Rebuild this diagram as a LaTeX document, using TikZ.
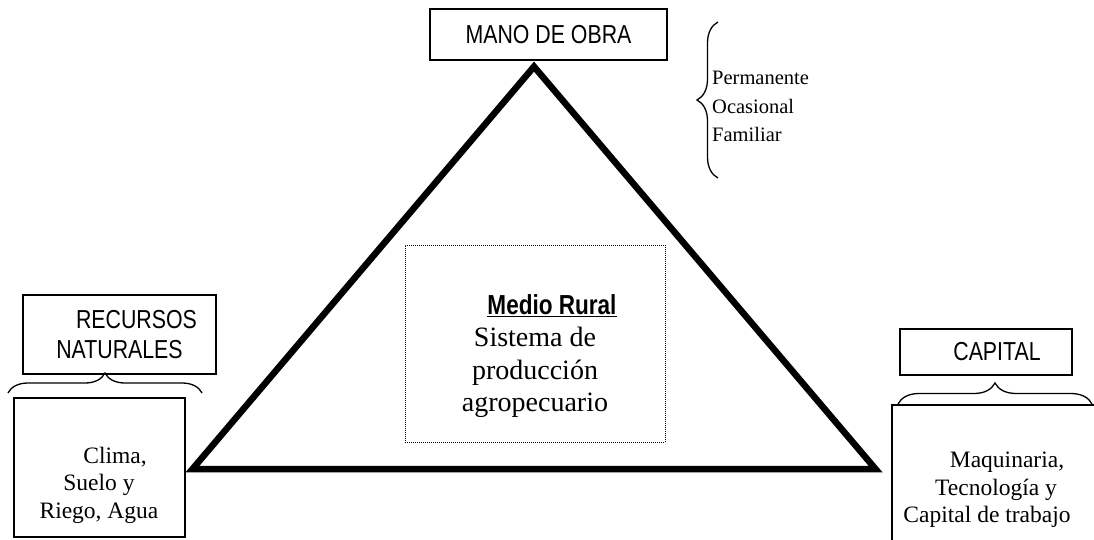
\documentclass[tikz,border=0pt]{standalone}
\usepackage{fontspec}
\setmainfont{Liberation Serif}
\newfontfamily\narrowfont[FakeStretch=0.82]{Liberation Sans}
\usetikzlibrary{decorations.pathreplacing}

\begin{document}
\begin{tikzpicture}[
  x=1pt, y=-1pt,
  titlebox/.style={
    rectangle, draw=black, line width=1.8pt, inner sep=0pt, align=center,
    font=\narrowfont\fontsize{26}{30}\selectfont
  },
  framebox/.style={
    rectangle, draw=black, line width=1.8pt, inner sep=0pt
  },
  itemtext/.style={
    inner sep=0pt, align=center, font=\fontsize{23.5}{27.5}\selectfont
  },
  tri/.style={line width=6.5pt, line join=miter},
  brc/.style={decorate, decoration={brace, amplitude=#1}, line width=1.3pt},
  brc/.default=20pt
]
  \useasboundingbox (0,0) rectangle (1094,540);
  \clip (0,0) rectangle (1094,540);

  % Triangle corners
  \coordinate (apex)  at (534,66.6);
  \coordinate (left)  at (192.5,469);
  \coordinate (right) at (875.5,469);
  \draw[tri] (left) -- (apex) -- (right) -- cycle;

  % Labels at the corners
  \node[titlebox, minimum width=237, minimum height=51] (mano) at (548.5,34.5) {MANO DE OBRA};
  \node[titlebox, minimum width=193, minimum height=79] (recursos) at (119.5,334.5)
    {\hspace*{34pt}RECURSOS\\NATURALES};
  \node[titlebox, minimum width=172, minimum height=46] (capital) at (986,352)
    {\hspace*{22pt}CAPITAL};

  % Centre box
  \node[framebox, draw, line width=1pt, dash pattern=on 1pt off 1pt,
        minimum width=260, minimum height=197] (medio) at (535,343.5) {};
  \node[inner sep=0pt, align=center, font=\fontsize{28}{32.3}\selectfont] (mediotxt) at (535,356)
    {{\narrowfont\bfseries\fontsize{27.5}{32.3}\selectfont\hspace*{34pt}\underline{Medio Rural}}\\
     Sistema de\\producción\\agropecuario};

  % Boxes under the braces
  \node[framebox, minimum width=171, minimum height=139] (clima) at (99.5,467.5) {};
  \node[itemtext] (climatxt) at (99,485) {\hspace*{32pt}Clima,\\Suelo y\\Riego, Agua};
  \node[framebox, minimum width=218, minimum height=155] (maquina) at (1001,482.5) {};
  \node[itemtext] (maquinatxt) at (987,490)
    {\hspace*{40pt}Maquinaria,\\\hspace*{18pt}Tecnología y\\Capital de trabajo};

  % Kinds of labour
  \node[inner sep=0pt, align=left, anchor=west, font=\fontsize{20.5}{28.5}\selectfont]
    (tipos) at (712,106.7) {Permanente\\Ocasional\\Familiar};

  % Braces
  \coordinate (bl1) at (8,393);
  \coordinate (bl2) at (202,393);
  \coordinate (br1) at (898,404);
  \coordinate (br2) at (1092,404);
  \coordinate (bt1) at (718,178);
  \coordinate (bt2) at (718,22);
  \draw[brc] (bl1) -- (bl2);
  \draw[brc=21pt] (br1) -- (br2);
  \draw[brc=21pt] (bt1) -- (bt2);
\end{tikzpicture}
\end{document}
